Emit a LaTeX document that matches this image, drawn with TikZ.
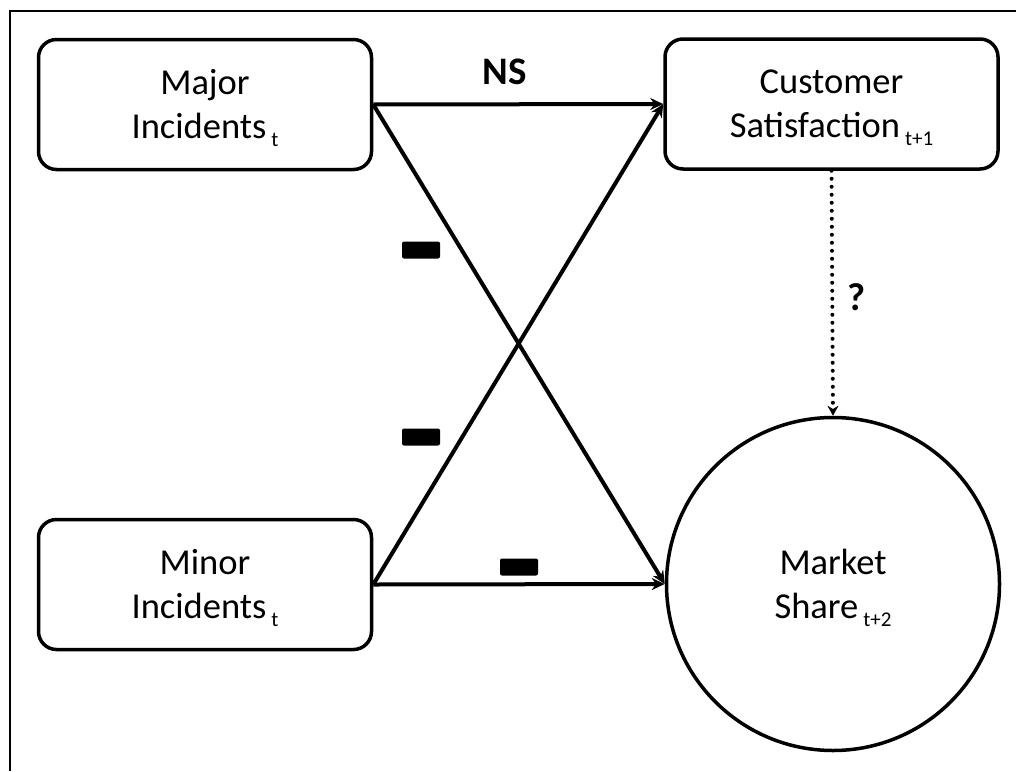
\documentclass[tikz,border=0pt]{standalone}
\usepackage{fontspec}
\setmainfont{Carlito}
\usetikzlibrary{arrows.meta}
% lowered index after a label word
\newcommand\lowsub[1]{\hspace{5pt}\raisebox{-8pt}[0pt][0pt]{\fontsize{21}{21}\selectfont #1}}
\begin{document}
\begin{tikzpicture}[x=1pt,y=-1pt,
  box/.style={draw,line width=3.5pt,rounded corners=18pt,minimum width=333pt,
    minimum height=130pt,align=center,inner sep=0pt,
    font=\fontsize{36.5}{44}\selectfont},
  bigcircle/.style={circle,draw,line width=3.5pt,minimum size=333pt,inner sep=0pt,
    align=center,font=\fontsize{36.5}{44}\selectfont},
  link/.style={line width=4pt,-{Stealth[length=13pt,width=12pt]}},
  dotlink/.style={line width=4pt,line cap=round,dash pattern=on 0pt off 8pt,
    -{Stealth[length=10pt,width=11pt]}},
  minus/.style={fill=black,minimum width=38pt,minimum height=17pt,inner sep=0pt,
    rounded corners=2pt},
  boldlabel/.style={font=\bfseries\fontsize{39}{39}\selectfont,inner sep=0pt}
]
\useasboundingbox (0,0) rectangle (1016,771);
\fill[white] (0,0) rectangle (1016,771);
% frame, open to the right and bottom
\draw[line width=2.5pt] (10,771) -- (10,11) -- (1016,11);

\node[box] (major) at (205,104.5) {Major\\Incidents\lowsub{t}};
\node[box] (cust) at (831.5,104) {Customer\\Satisfaction\lowsub{t+1}};
\node[box] (minor) at (205,584.5) {Minor\\Incidents\lowsub{t}};
\node[bigcircle] (share) at (833,584) {Market\\Share\lowsub{t+2}};

\draw[link] (major.east) -- (cust.west);
\draw[link] (major.east) -- (share.west);
\draw[link] (minor.east) -- (cust.west);
\draw[link] (minor.east) -- (share.west);
\draw[dotlink] (cust.south) -- (share.north);

\node[boldlabel] (ns) at (505,72) {NS};
\node[boldlabel] (q) at (857,297) {?};
\node[minus] (m1) at (421,250) {};
\node[minus] (m2) at (421,437) {};
\node[minus] (m3) at (519,567) {};
\end{tikzpicture}
\end{document}
